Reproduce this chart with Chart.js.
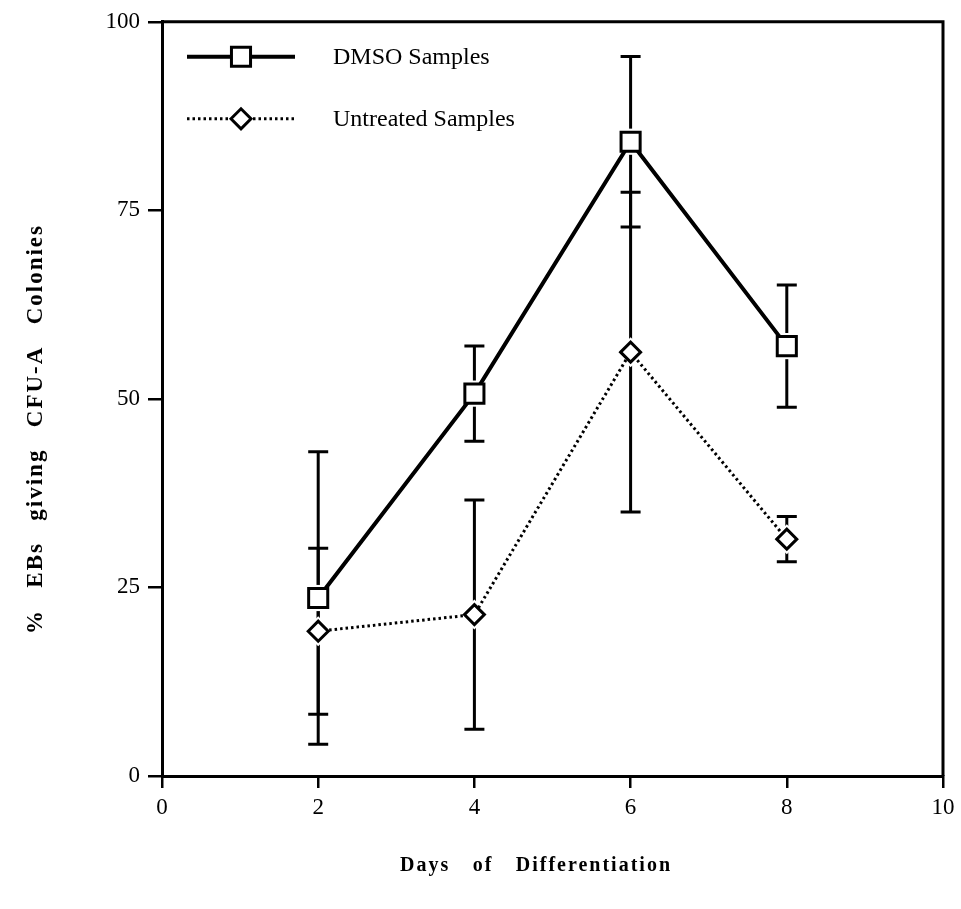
<!DOCTYPE html>
<html>
<head>
<meta charset="utf-8">
<script src="https://cdn.jsdelivr.net/npm/chart.js@4.4.1/dist/chart.umd.min.js"></script>
<style>
  body { margin: 0; background: #fff; }
  #wrap { width: 961px; height: 909px; }
</style>
</head>
<body>
<div id="wrap"><canvas id="cfuChart" width="961" height="909"></canvas></div>
<script>
const days = [2, 4, 6, 8];
const dmsoMeans = [23.6, 50.7, 84.1, 57.0];
const dmsoErrors = [19.4, 6.3, 11.3, 8.1];
const untreatedMeans = [19.2, 21.4, 56.2, 31.4];
const untreatedErrors = [11.0, 15.2, 21.2, 3.0];
const xTicks = [0, 2, 4, 6, 8, 10];
const yTicks = [0, 25, 50, 75, 100];

const serif = "'Liberation Serif', 'Times New Roman', serif";

// vertical error bars with caps, drawn under the markers
const errorBars = {
    id: 'errorBars',
    beforeDatasetsDraw(chart) {
        const ctx = chart.ctx;
        const x = chart.scales.x;
        const y = chart.scales.y;
        ctx.save();
        ctx.strokeStyle = '#000';
        ctx.lineWidth = 3;
        chart.data.datasets.forEach(ds => {
            ds.data.forEach((pt, i) => {
                const err = ds.errors[i];
                const px = x.getPixelForValue(pt.x);
                const top = y.getPixelForValue(pt.y + err);
                const bot = y.getPixelForValue(pt.y - err);
                ctx.beginPath();
                ctx.moveTo(px, top);
                ctx.lineTo(px, bot);
                ctx.moveTo(px - 10, top);
                ctx.lineTo(px + 10, top);
                ctx.moveTo(px - 10, bot);
                ctx.lineTo(px + 10, bot);
                ctx.stroke();
            });
        });
        // small white margin so the bars stop short of each marker
        ctx.fillStyle = '#fff';
        chart.data.datasets.forEach(ds => {
            ds.data.forEach(pt => {
                Chart.helpers.drawPoint(ctx, {
                    pointStyle: ds.pointStyle,
                    radius: ds.pointRadius + 5,
                    borderWidth: 0
                }, x.getPixelForValue(pt.x), y.getPixelForValue(pt.y));
            });
        });
        ctx.restore();
    }
};

// writes words spread evenly over a given width, centred on (cx, cy)
function spreadText(ctx, words, cx, cy, total) {
    const widths = words.map(w => ctx.measureText(w).width);
    const gap = (total - widths.reduce((s, w) => s + w, 0)) / (words.length - 1);
    let xPos = cx - total / 2;
    ctx.textAlign = 'left';
    words.forEach((w, i) => {
        ctx.fillText(w, xPos, cy);
        xPos += widths[i] + gap;
    });
}

// box frame, legend inside the plot and the two axis titles
const decorations = {
    id: 'decorations',
    afterDraw(chart) {
        const ctx = chart.ctx;
        const a = chart.chartArea;
        ctx.save();
        ctx.strokeStyle = '#000';
        ctx.lineWidth = 3;
        ctx.beginPath();
        ctx.moveTo(a.left - 1, a.top);
        ctx.lineTo(a.right, a.top);
        ctx.lineTo(a.right, a.bottom);
        ctx.stroke();

        // legend
        const rows = [
            { ds: chart.data.datasets[0], y: a.top + 35 },
            { ds: chart.data.datasets[1], y: a.top + 97 }
        ];
        rows.forEach(r => {
            const x0 = a.left + 25, x1 = a.left + 133, xm = a.left + 79;
            ctx.lineWidth = r.ds.borderWidth;
            ctx.setLineDash(r.ds.borderDash || []);
            ctx.beginPath();
            ctx.moveTo(x0, r.y);
            ctx.lineTo(x1, r.y);
            ctx.stroke();
            ctx.setLineDash([]);
            ctx.fillStyle = '#fff';
            ctx.lineWidth = r.ds.pointBorderWidth;
            Chart.helpers.drawPoint(ctx, {
                pointStyle: r.ds.pointStyle,
                radius: r.ds.pointRadius,
                borderWidth: r.ds.pointBorderWidth
            }, xm, r.y);
            ctx.fillStyle = '#000';
            ctx.font = '24px ' + serif;
            ctx.textAlign = 'left';
            ctx.textBaseline = 'middle';
            ctx.fillText(r.ds.label, a.left + 171, r.y + 1);
        });

        // axis titles
        ctx.fillStyle = '#000';
        ctx.font = 'bold 20px ' + serif;
        ctx.letterSpacing = '2px';
        ctx.textBaseline = 'middle';
        spreadText(ctx, ['Days', 'of', 'Differentiation'], 536, 866, 272);
        ctx.translate(36, 429);
        ctx.rotate(-Math.PI / 2);
        ctx.font = 'bold 23px ' + serif;
        spreadText(ctx, ['%', 'EBs', 'giving', 'CFU-A', 'Colonies'], 0, 0, 410);
        ctx.restore();
    }
};

new Chart(document.getElementById('cfuChart'), {
    type: 'line',
    data: {
        datasets: [{
            label: 'DMSO Samples',
            data: days.map((d, i) => ({ x: d, y: dmsoMeans[i] })),
            errors: dmsoErrors,
            borderColor: '#000',
            borderWidth: 4,
            pointStyle: 'rect',
            pointRadius: 13.5,
            pointBorderWidth: 3,
            pointBackgroundColor: '#fff',
            pointBorderColor: '#000'
        }, {
            label: 'Untreated Samples',
            data: days.map((d, i) => ({ x: d, y: untreatedMeans[i] })),
            errors: untreatedErrors,
            borderColor: '#000',
            borderWidth: 3,
            borderDash: [2.5, 3],
            pointStyle: 'rectRot',
            pointRadius: 10,
            pointBorderWidth: 3,
            pointBackgroundColor: '#fff',
            pointBorderColor: '#000'
        }]
    },
    options: {
        responsive: false,
        animation: false,
        layout: { padding: { top: 16, right: 18, left: 0, bottom: 0 } },
        plugins: {
            legend: { display: false },
            tooltip: { enabled: false }
        },
        scales: {
            x: {
                type: 'linear',
                min: 0,
                max: 10,
                afterFit(scale) { scale.height = 133; },
                afterBuildTicks(scale) { scale.ticks = xTicks.map(v => ({ value: v })); },
                border: { color: '#000', width: 3 },
                grid: { drawOnChartArea: false, color: '#000', lineWidth: 2.5, tickLength: 12 },
                ticks: { color: '#000', font: { family: serif, size: 23 }, padding: 6 }
            },
            y: {
                min: 0,
                max: 100,
                afterFit(scale) { scale.width = 162; },
                afterBuildTicks(scale) { scale.ticks = yTicks.map(v => ({ value: v })); },
                border: { color: '#000', width: 3 },
                grid: { drawOnChartArea: false, color: '#000', lineWidth: 2.5, tickLength: 14 },
                ticks: { color: '#000', font: { family: serif, size: 23 }, padding: 8 }
            }
        }
    },
    plugins: [errorBars, decorations]
});
</script>
</body>
</html>
